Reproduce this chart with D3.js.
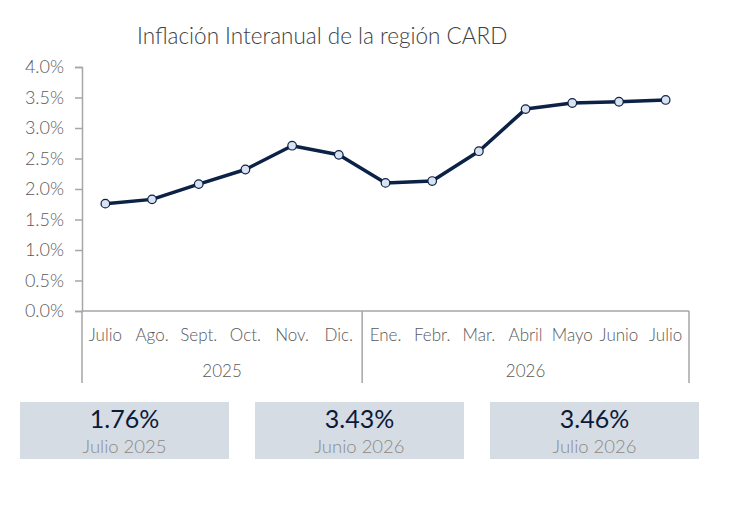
<!DOCTYPE html>
<html>
<head>
<meta charset="utf-8">
<script src="https://cdn.jsdelivr.net/npm/d3@7"></script>
<style>
  body { margin: 0; background: #fff; }
  text { font-family: Lato, "Liberation Sans", sans-serif; font-weight: 300; }
  text.value { font-weight: 400; }
</style>
</head>
<body>
<div id="chart"></div>
<script>
// Data
var months = ["Julio", "Ago.", "Sept.", "Oct.", "Nov.", "Dic.", "Ene.", "Febr.", "Mar.", "Abril", "Mayo", "Junio", "Julio"];
var years = ["2025", "2025", "2025", "2025", "2025", "2025", "2026", "2026", "2026", "2026", "2026", "2026", "2026"];
var inflation = [1.76, 1.83, 2.08, 2.32, 2.71, 2.56, 2.10, 2.13, 2.62, 3.31, 3.41, 3.43, 3.46];
var yTicks = [0, 0.5, 1, 1.5, 2, 2.5, 3, 3.5, 4];
var cardValues = ["1.76%", "3.43%", "3.46%"];
var cardLabels = ["Julio 2025", "Junio 2026", "Julio 2026"];

function init() {
  var W = 729, H = 509;
  var svg = d3.select("#chart").append("svg").attr("width", W).attr("height", H);

  var left = 82, right = 689, top = 67, bottom = 311;

  // x: one band per month
  var x = d3.scaleBand().domain(d3.range(months.length)).range([left, right]);
  var y = d3.scaleLinear().domain([0, 4]).range([bottom, top]);

  // title
  svg.append("text")
    .attr("x", 137).attr("y", 44)
    .attr("font-size", 22.5).attr("fill", "#404040")
    .text("Inflación Interanual de la región CARD");

  // y axis
  var yAxis = d3.axisLeft(y).tickValues(yTicks).tickSize(7).tickPadding(11)
    .tickFormat(function (d) { return d.toFixed(1) + "%"; });
  var gy = svg.append("g").attr("transform", "translate(" + left + ",0)").call(yAxis);
  gy.select(".domain").attr("stroke", "#a6a6a6").attr("stroke-width", 1.5);
  gy.selectAll(".tick line").attr("stroke", "#a6a6a6").attr("stroke-width", 1.5);
  gy.selectAll(".tick text").attr("font-size", 18).attr("fill", "#595959")
    .attr("font-family", "Lato, sans-serif");

  // x axis baseline
  svg.append("line").attr("x1", left).attr("x2", right).attr("y1", bottom).attr("y2", bottom)
    .attr("stroke", "#a6a6a6").attr("stroke-width", 1.5);

  // month labels
  svg.selectAll(".month").data(months).enter().append("text")
    .attr("class", "month")
    .attr("x", function (d, i) { return x(i) + x.bandwidth() / 2; })
    .attr("y", 341)
    .attr("text-anchor", "middle")
    .attr("font-size", 17).attr("fill", "#595959")
    .text(function (d) { return d; });

  // year groups and separators
  var groups = d3.groups(d3.range(years.length), function (i) { return years[i]; });
  var seps = [left];
  groups.forEach(function (g) {
    var last = g[1][g[1].length - 1];
    seps.push(x(last) + x.bandwidth());
  });
  svg.selectAll(".sep").data(seps).enter().append("line")
    .attr("x1", function (d) { return d; }).attr("x2", function (d) { return d; })
    .attr("y1", bottom).attr("y2", 383)
    .attr("stroke", "#a6a6a6").attr("stroke-width", 1.5);
  svg.selectAll(".year").data(groups).enter().append("text")
    .attr("x", function (g) {
      var idx = g[1];
      return (x(idx[0]) + x(idx[idx.length - 1]) + x.bandwidth()) / 2;
    })
    .attr("y", 377)
    .attr("text-anchor", "middle")
    .attr("font-size", 17).attr("fill", "#595959")
    .text(function (g) { return g[0]; });

  // line + markers
  var line = d3.line()
    .x(function (d, i) { return x(i) + x.bandwidth() / 2; })
    .y(function (d) { return y(d); });
  svg.append("path").datum(inflation)
    .attr("d", line).attr("fill", "none")
    .attr("stroke", "#0b2145").attr("stroke-width", 3.5)
    .attr("stroke-linejoin", "round");
  svg.selectAll(".pt").data(inflation).enter().append("circle")
    .attr("cx", function (d, i) { return x(i) + x.bandwidth() / 2; })
    .attr("cy", function (d) { return y(d); })
    .attr("r", 4.3)
    .attr("fill", "#d9e2f1").attr("stroke", "#0b2145").attr("stroke-width", 1.2);

  // summary cards
  var cardX = [20, 255, 490], cardW = 209;
  var cards = svg.selectAll(".card").data(cardValues).enter().append("g")
    .attr("transform", function (d, i) { return "translate(" + cardX[i] + ",402)"; });
  cards.append("rect").attr("width", cardW).attr("height", 57).attr("fill", "#d6dce4");
  cards.append("text")
    .attr("class", "value")
    .attr("x", cardW / 2).attr("y", 26)
    .attr("text-anchor", "middle")
    .attr("font-size", 25).attr("fill", "#0c1a3a")
    .text(function (d) { return d; });
  cards.append("text")
    .attr("x", cardW / 2).attr("y", 51)
    .attr("text-anchor", "middle")
    .attr("font-size", 18.5).attr("fill", "#8c8a86")
    .text(function (d, i) { return cardLabels[i]; });
}

window.onload = init;
</script>
</body>
</html>
